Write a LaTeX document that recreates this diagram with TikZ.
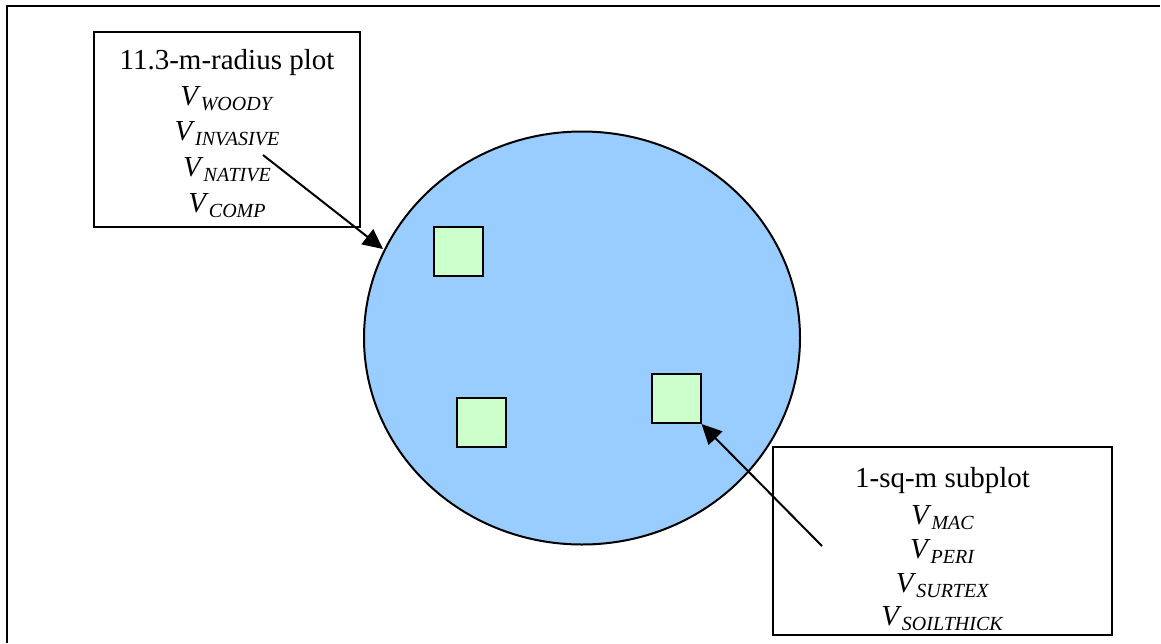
\documentclass[tikz,border=0pt]{standalone}
\usepackage{fontspec}
\setmainfont{Liberation Serif}
\usetikzlibrary{arrows.meta,shapes.geometric}
\newcommand{\vsub}[1]{\textit{V}\raisebox{-5pt}{\fontsize{20}{22}\selectfont\textit{#1}}}
\tikzset{
  lw/.style={line width=2pt},
  labelbox/.style={draw, lw, fill=white, inner sep=0pt},
  sq/.style={draw, lw, minimum size=49pt, inner sep=0pt},
  txt/.style={anchor=base, inner sep=0pt, font=\fontsize{29}{34}\selectfont},
  arr/.style={lw, -{Triangle[length=20pt,width=19pt]}},
}
\definecolor{circblue}{HTML}{99CCFF}
\definecolor{sqgreen}{HTML}{CCFFCC}
\begin{document}
\begin{tikzpicture}[x=1pt,y=-1pt]
\useasboundingbox (0,0) rectangle (1161,643);
% outer frame (cut at right and bottom)
\coordinate (ftl) at (7,6);
\coordinate (ftr) at (1160,6);
\coordinate (fbl) at (7,643);
\draw[lw] (fbl) -- (ftl) -- (ftr);
% circle plot
\node[draw, lw, fill=circblue, ellipse, minimum width=436pt, minimum height=413pt, inner sep=0pt] (plot) at (582,338) {};
% subplots
\node[sq, fill=sqgreen] (s1) at (458,251.5) {};
\node[sq, fill=sqgreen] (s2) at (481.5,422.5) {};
\node[sq, fill=sqgreen] (s3) at (676,398.5) {};
% label box 1
\node[labelbox, minimum width=266pt, minimum height=195pt] (b1) at (227,129.5) {};
\node[txt] (b1t) at (227,69) {11.3-m-radius plot};
\node[txt] (b1a) at (227,105) {\vsub{WOODY}};
\node[txt] (b1b) at (227,140) {\vsub{INVASIVE}};
\node[txt] (b1c) at (227,176) {\vsub{NATIVE}};
\node[txt] (b1d) at (227,212) {\vsub{COMP}};
% label box 2
\node[labelbox, minimum width=339pt, minimum height=188pt] (b2) at (942.5,541) {};
\node[txt] (b2t) at (942.5,487) {1-sq-m subplot};
\node[txt] (b2a) at (942.5,524) {\vsub{MAC}};
\node[txt] (b2b) at (942.5,558) {\vsub{PERI}};
\node[txt] (b2c) at (942.5,592) {\vsub{SURTEX}};
\node[txt] (b2d) at (942.5,625) {\vsub{SOILTHICK}};
% arrows
\coordinate (a1s) at (263,155);
\coordinate (a1e) at (383,249);
\coordinate (a2s) at (822,546);
\draw[arr] (a1s) -- (a1e);
\draw[arr] (a2s) -- (s3.south east);
\end{tikzpicture}
\end{document}
